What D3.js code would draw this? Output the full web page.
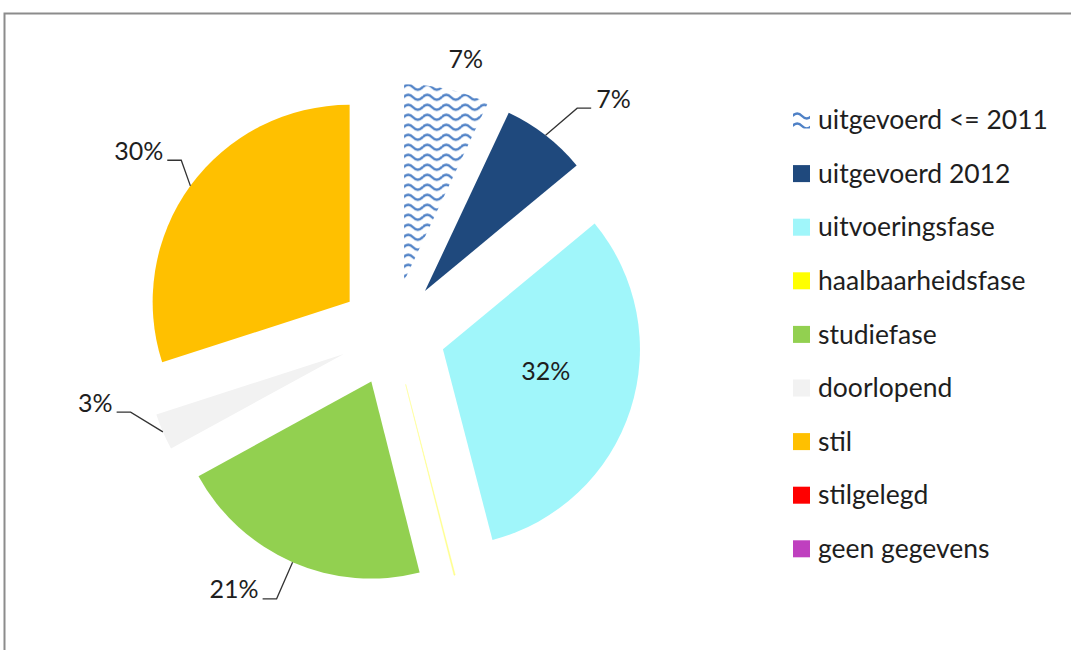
<!DOCTYPE html>
<html>
<head>
<meta charset="utf-8">
<script src="https://cdn.jsdelivr.net/npm/d3@7"></script>
<style>
  html, body { margin: 0; padding: 0; background: #fff; }
  svg text { font-family: Lato, "Open Sans", sans-serif; fill: #1e1e1e; }
</style>
</head>
<body>
<div class="chart"></div>
<script>
// categories and values (percentages)
var categories = ['uitgevoerd <= 2011', 'uitgevoerd 2012', 'uitvoeringsfase', 'haalbaarheidsfase',
                  'studiefase', 'doorlopend', 'stil', 'stilgelegd', 'geen gegevens'];
var values = [7, 7, 32, 0.1, 21, 3, 30, 0, 0];
var colors = ['pattern', '#1F497D', '#A0F6FA', '#FFFF00', '#92D050', '#F2F2F2', '#FFC000', '#FF0000', '#BF40BF'];

var width = 1071, height = 650;
var cx = 392.5, cy = 333, radius = 197, explode = 53;

var svg = d3.select('.chart')
  .append('svg')
  .attr('width', width)
  .attr('height', height);

// wavy pattern for the first slice
var pat = svg.append('defs').append('pattern')
  .attr('id', 'waves')
  .attr('patternUnits', 'userSpaceOnUse')
  .attr('width', 19)
  .attr('height', 10);
pat.append('path')
  .attr('d', 'M-0.5,6 q4.75,-5 9.5,0 t9.5,0 l0.5,0')
  .attr('fill', 'none')
  .attr('stroke', '#4F81C6')
  .attr('stroke-width', 2.5);

function fillFor(i) {
  return colors[i] === 'pattern' ? 'url(#waves)' : colors[i];
}

// frame
svg.append('rect')
  .attr('x', 4.5).attr('y', 13.5)
  .attr('width', 1200).attr('height', 800)
  .attr('fill', 'none')
  .attr('stroke', '#8c8c8c')
  .attr('stroke-width', 2);

var pie = d3.pie().sort(null).value(function(d) { return d; });
var arc = d3.arc().innerRadius(0).outerRadius(radius);
var arcs = pie(values);

function mid(d) { return (d.startAngle + d.endAngle) / 2; }
function polar(a, r) { return [r * Math.sin(a), -r * Math.cos(a)]; }

var g = svg.append('g').attr('transform', 'translate(' + cx + ',' + cy + ')');

var slices = g.selectAll('.slice')
  .data(arcs)
  .enter().append('g')
  .attr('class', 'slice')
  .attr('transform', function(d) {
    var p = polar(mid(d), explode);
    return 'translate(' + p[0] + ',' + p[1] + ')';
  });

slices.filter(function(d) { return d.value > 0; })
  .append('path')
  .attr('d', arc)
  .attr('fill', function(d) { return d.value < 1 ? '#FFFF90' : fillFor(d.index); })
  .attr('stroke', function(d) { return d.value < 1 ? '#FFFF80' : 'none'; })
  .attr('stroke-width', 0.4);

// label placement: radius, angle shift in degrees, leader line or not
var labelPlace = {
  0: { r: 230, shift: 3, leader: false },
  1: { r: 238, shift: 2, leader: true },
  2: { r: 105, shift: -6, leader: false },
  4: { r: 237, shift: 0, leader: true },
  5: { r: 221, shift: 8, leader: true },
  6: { r: 220, shift: 4, leader: true }
};

slices.each(function(d) {
  var lp = labelPlace[d.index];
  if (!lp) return;
  var sel = d3.select(this);
  var txt = Math.round(d.value) + '%';
  var a = mid(d) + lp.shift * Math.PI / 180;
  var p = polar(a, lp.r);
  if (!lp.leader) {
    sel.append('text')
      .attr('x', p[0]).attr('y', p[1])
      .attr('text-anchor', 'middle')
      .attr('dy', '0.35em')
      .style('font-size', '25px')
      .text(txt);
    return;
  }
  var start = polar(mid(d), radius);
  var right = Math.sin(a) > 0;
  var tail = right ? 14 : -14;
  sel.append('polyline')
    .attr('points', [start, p, [p[0] + tail, p[1]]].map(function(q) { return q.join(','); }).join(' '))
    .attr('fill', 'none')
    .attr('stroke', '#333')
    .attr('stroke-width', 1.3);
  sel.append('text')
    .attr('x', p[0] + tail + (right ? 5 : -4))
    .attr('y', p[1])
    .attr('text-anchor', right ? 'start' : 'end')
    .attr('dy', '-0.02em')
    .style('font-size', '25px')
    .text(txt);
});

// legend
var legend = svg.append('g').attr('transform', 'translate(793,120)');
var rows = legend.selectAll('.row')
  .data(categories)
  .enter().append('g')
  .attr('class', 'row')
  .attr('transform', function(d, i) { return 'translate(0,' + (i * 53.6) + ')'; });

rows.append('rect')
  .attr('x', 0).attr('y', -8.5)
  .attr('width', 17).attr('height', 17)
  .attr('fill', function(d, i) { return fillFor(i); });

rows.append('text')
  .attr('x', 25)
  .attr('y', 0)
  .attr('dy', '0.35em')
  .style('font-size', '26.5px')
  .text(function(d) { return d; });
</script>
</body>
</html>
